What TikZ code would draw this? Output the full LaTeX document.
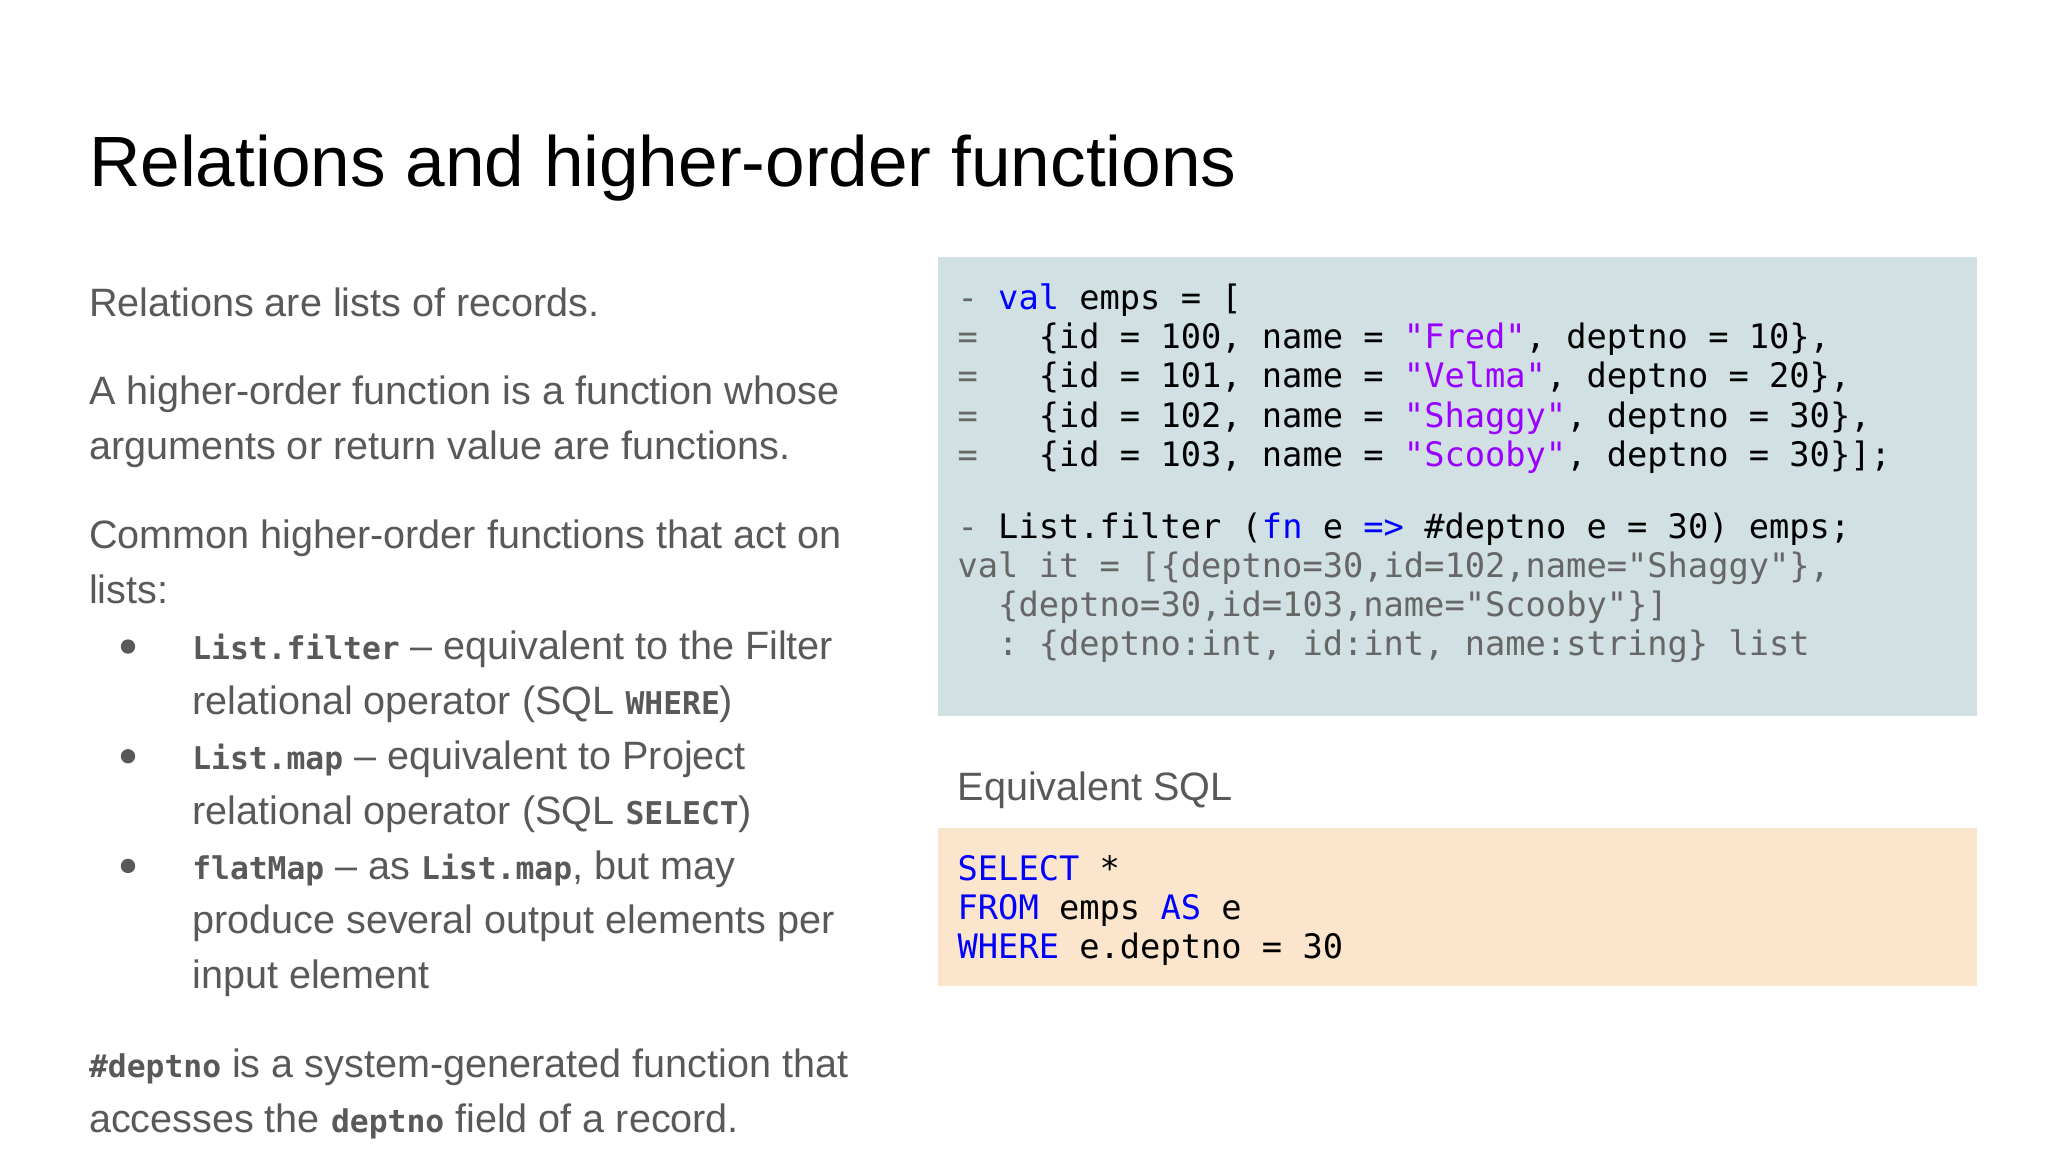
\documentclass[tikz,border=0pt]{standalone}
\usepackage{fontspec}
\setmainfont{Liberation Sans}
\setmonofont{DejaVu Sans Mono}
\definecolor{bodygray}{HTML}{595959}
\definecolor{codebg}{HTML}{D0E0E3}
\definecolor{sqlbg}{HTML}{FCE5CD}
\definecolor{kwblue}{HTML}{0000FF}
\definecolor{strpurple}{HTML}{9900FF}
\definecolor{resgray}{HTML}{666666}
\newcommand\kw[1]{\textcolor{kwblue}{#1}}
\newcommand\str[1]{\textcolor{strpurple}{#1}}
\newcommand\mc[1]{{\ttfamily\fontsize{24}{28}\selectfont\bfseries #1}}
\tikzset{
  cl/.style={anchor=base west,inner sep=0,font=\ttfamily\fontsize{25.8}{30}\selectfont,text=black},
  body/.style={anchor=base west,inner sep=0,font=\fontsize{30.3}{42}\selectfont,text=bodygray},
  dot/.style={circle,fill=bodygray,inner sep=0,minimum size=11pt}
}
\begin{document}
\begin{tikzpicture}[x=1pt,y=-1pt]
\useasboundingbox (0,0) rectangle (1568,882);
\fill[white] (0,0) rectangle (1568,882);
\node[anchor=base west,inner sep=0,font=\fontsize{54.5}{60}\selectfont] (title) at (68,143) {Relations and higher-order functions};
% left text
\node[body] (l1) at (68,242) {Relations are lists of records.};
\node[body] (l2) at (68,310) {A higher-order function is a function whose};
\node[body] (l3) at (68,352) {arguments or return value are functions.};
\node[body] (l4) at (68,420) {Common higher-order functions that act on};
\node[body] (l5) at (68,462) {lists:};
\node[dot] (d1) at (98,495) {};
\node[dot] (d2) at (98,579) {};
\node[dot] (d3) at (98,663) {};
\node[body] (b1) at (147,505) {\mc{List.filter} -- equivalent to the Filter};
\node[body] (b2) at (147,547) {relational operator (SQL \mc{WHERE})};
\node[body] (b3) at (147,589) {\mc{List.map} -- equivalent to Project};
\node[body] (b4) at (147,631) {relational operator (SQL \mc{SELECT})};
\node[body] (b5) at (147,673) {\mc{flatMap} -- as \mc{List.map}, but may};
\node[body] (b6) at (147,715) {produce several output elements per};
\node[body] (b7) at (147,757) {input element};
\node[body] (n1) at (68,825) {\mc{\#deptno} is a system-generated function that};
\node[body] (n2) at (68,867) {accesses the \mc{deptno} field of a record.};
% code box
\fill[codebg] (718,197) rectangle (1514,548);
\node[cl] (c1) at (733,237) {\textcolor{resgray}{-}~\kw{val}~emps~=~[};
\node[cl] (c2) at (733,267) {\textcolor{resgray}{=}~~~\{id~=~100,~name~=~\str{"Fred"},~deptno~=~10\},};
\node[cl] (c3) at (733,297) {\textcolor{resgray}{=}~~~\{id~=~101,~name~=~\str{"Velma"},~deptno~=~20\},};
\node[cl] (c4) at (733,327) {\textcolor{resgray}{=}~~~\{id~=~102,~name~=~\str{"Shaggy"},~deptno~=~30\},};
\node[cl] (c5) at (733,357) {\textcolor{resgray}{=}~~~\{id~=~103,~name~=~\str{"Scooby"},~deptno~=~30\}];};
\node[cl] (c6) at (733,412) {\textcolor{resgray}{-}~List.filter~(\kw{fn}~e~\kw{=>}~\#deptno~e~=~30)~emps;};
\node[cl,text=resgray] (c7) at (733,442) {val~it~=~[\{deptno=30,id=102,name="Shaggy"\},};
\node[cl,text=resgray] (c8) at (733,472) {~~\{deptno=30,id=103,name="Scooby"\}]};
\node[cl,text=resgray] (c9) at (733,502) {~~:~\{deptno:int,~id:int,~name:string\}~list};
% SQL
\node[body] (eq) at (733,613) {Equivalent SQL};
\fill[sqlbg] (718,634) rectangle (1514,755);
\node[cl] (s1) at (733,674) {\kw{SELECT}~*};
\node[cl] (s2) at (733,704) {\kw{FROM}~emps~\kw{AS}~e};
\node[cl] (s3) at (733,734) {\kw{WHERE}~e.deptno~=~30};
\end{tikzpicture}
\end{document}
